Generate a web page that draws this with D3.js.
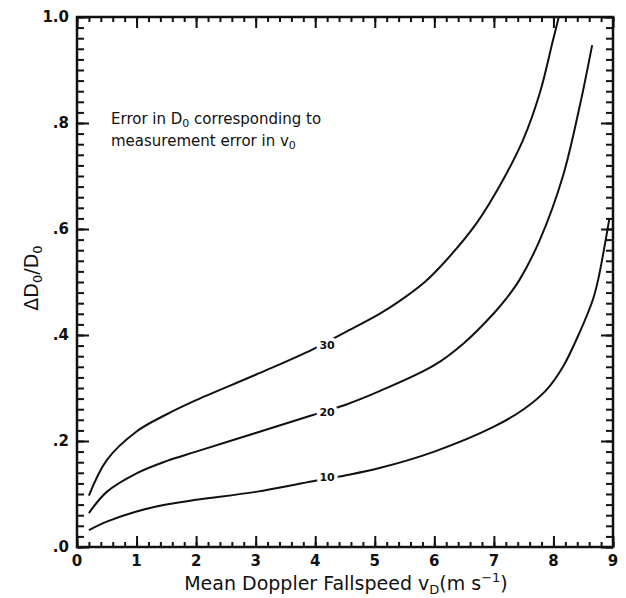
<!DOCTYPE html>
<html>
<head>
<meta charset="utf-8">
<script src="https://cdn.jsdelivr.net/npm/d3@7"></script>
<style>
  body { margin: 0; background: #fff; }
  text { font-family: "DejaVu Sans", sans-serif; fill: #111; }
</style>
</head>
<body>
<svg id="chart" width="626" height="598"></svg>
<script>
// values
let xTickValues = [0, 1, 2, 3, 4, 5, 6, 7, 8, 9];
let yTickValues = [0, 0.2, 0.4, 0.6, 0.8, 1.0];
let yTickLabels = ['.0', '.2', '.4', '.6', '.8', '1.0'];

let curveNames = ['30', '20', '10'];
let vd30 = [0.2, 0.5, 1.0, 1.5, 2.0, 3.0, 3.96, 4.5, 5.08, 5.39, 5.84, 6.2, 6.71, 7.15, 7.49, 7.77, 7.99, 8.09];
let err30 = [0.097, 0.164, 0.218, 0.25, 0.277, 0.325, 0.373, 0.405, 0.44, 0.462, 0.5, 0.541, 0.611, 0.692, 0.768, 0.856, 0.955, 1.0];
let vd20 = [0.2, 0.5, 1.0, 1.5, 2.0, 3.0, 3.96, 4.5, 5.08, 6.0, 6.5, 7.0, 7.21, 7.43, 7.77, 8.16, 8.44, 8.65];
let err20 = [0.064, 0.104, 0.139, 0.162, 0.18, 0.215, 0.249, 0.268, 0.294, 0.343, 0.385, 0.441, 0.469, 0.504, 0.579, 0.70, 0.831, 0.947];
let vd10 = [0.2, 0.5, 1.0, 1.5, 2.0, 3.0, 3.96, 4.5, 5.08, 6.0, 7.0, 7.5, 7.88, 8.16, 8.44, 8.66, 8.75, 8.94];
let err10 = [0.032, 0.048, 0.067, 0.08, 0.089, 0.104, 0.124, 0.135, 0.149, 0.18, 0.227, 0.26, 0.296, 0.34, 0.405, 0.466, 0.504, 0.62];
// where the contour labels sit
let labelX = [4.2, 4.2, 4.2];
let labelY = [0.38, 0.255, 0.132];

let margin = { top: 17, right: 13, bottom: 51, left: 77 };
let width = 626, height = 598;

let svg = d3.select('#chart');

let x = d3.scaleLinear().domain([0, 9]).range([margin.left, width - margin.right]);
let y = d3.scaleLinear().domain([0, 1]).range([height - margin.bottom, margin.top]);

let series = [
  vd30.map((v, i) => ({ x: v, y: err30[i] })),
  vd20.map((v, i) => ({ x: v, y: err20[i] })),
  vd10.map((v, i) => ({ x: v, y: err10[i] }))
];

let line = d3.line()
  .x(d => x(d.x))
  .y(d => y(d.y))
  .curve(d3.curveCatmullRom.alpha(0.5));

svg.append('g')
  .selectAll('path')
  .data(series)
  .enter()
  .append('path')
  .attr('d', line)
  .attr('fill', 'none')
  .attr('stroke', '#111')
  .attr('stroke-width', 2);

// labels on curves, white halo makes the gap in the line
svg.append('g')
  .selectAll('text')
  .data(curveNames)
  .enter()
  .append('text')
  .attr('x', (d, i) => x(labelX[i]))
  .attr('y', (d, i) => y(labelY[i]))
  .attr('dy', '0.35em')
  .attr('text-anchor', 'middle')
  .attr('font-size', 11)
  .attr('font-weight', 'bold')
  .attr('stroke', '#fff')
  .attr('stroke-width', 7)
  .attr('paint-order', 'stroke')
  .text(d => d);

// axes: ticks inward on all four sides
let minorX = d3.range(0, 9.001, 0.2);
let minorY = d3.range(0, 1.001, 0.02);

function tickAxis(axis, pos) {
  svg.append('g').attr('transform', pos).call(axis);
}
tickAxis(d3.axisTop(x).tickValues(minorX).tickSize(5).tickFormat(''), `translate(0,${y(0)})`);
tickAxis(d3.axisTop(x).tickValues(xTickValues).tickSize(11).tickFormat(''), `translate(0,${y(0)})`);
tickAxis(d3.axisBottom(x).tickValues(minorX).tickSize(5).tickFormat(''), `translate(0,${y(1)})`);
tickAxis(d3.axisBottom(x).tickValues(xTickValues).tickSize(11).tickFormat(''), `translate(0,${y(1)})`);
tickAxis(d3.axisRight(y).tickValues(minorY).tickSize(7).tickFormat(''), `translate(${x(0)},0)`);
tickAxis(d3.axisRight(y).tickValues(yTickValues).tickSize(12).tickFormat(''), `translate(${x(0)},0)`);
tickAxis(d3.axisLeft(y).tickValues(minorY).tickSize(7).tickFormat(''), `translate(${x(9)},0)`);
tickAxis(d3.axisLeft(y).tickValues(yTickValues).tickSize(12).tickFormat(''), `translate(${x(9)},0)`);

svg.selectAll('.domain').remove();
svg.selectAll('.tick line').attr('stroke', '#111').attr('stroke-width', 2);

// frame
svg.append('rect')
  .attr('x', x(0)).attr('y', y(1))
  .attr('width', x(9) - x(0)).attr('height', y(0) - y(1))
  .attr('fill', 'none').attr('stroke', '#111').attr('stroke-width', 2.5);

// tick labels
svg.append('g')
  .selectAll('text')
  .data(xTickValues)
  .enter()
  .append('text')
  .attr('x', d => x(d))
  .attr('y', y(0) + 19)
  .attr('text-anchor', 'middle')
  .attr('font-size', 15)
  .attr('font-weight', 'bold')
  .text(d => d);

svg.append('g')
  .selectAll('text')
  .data(yTickValues)
  .enter()
  .append('text')
  .attr('x', x(0) - 8)
  .attr('y', d => y(d))
  .attr('dy', '0.35em')
  .attr('text-anchor', 'end')
  .attr('font-size', 15)
  .attr('font-weight', 'bold')
  .text((d, i) => yTickLabels[i]);

// axis titles
let xt = svg.append('text')
  .attr('x', 346).attr('y', 590)
  .attr('text-anchor', 'middle')
  .attr('font-size', 19);
xt.append('tspan').text('Mean Doppler Fallspeed v');
xt.append('tspan').attr('font-size', 13).attr('dy', 4).text('D');
xt.append('tspan').attr('dy', -4).text('(m s');
xt.append('tspan').attr('font-size', 13).attr('dy', -8).text('−1');
xt.append('tspan').attr('dy', 8).text(')');

let yt = svg.append('text')
  .attr('transform', 'translate(38,278) rotate(-90)')
  .attr('text-anchor', 'middle')
  .attr('font-size', 19);
yt.append('tspan').text('ΔD');
yt.append('tspan').attr('font-size', 13).attr('dy', 4).text('0');
yt.append('tspan').attr('dy', -4).text('/D');
yt.append('tspan').attr('font-size', 13).attr('dy', 4).text('0');

// annotation
let note1 = svg.append('text').attr('x', 111).attr('y', 124).attr('font-size', 15);
note1.append('tspan').text('Error in D');
note1.append('tspan').attr('font-size', 11).attr('dy', 3).text('0');
note1.append('tspan').attr('dy', -3).text(' corresponding to');
let note2 = svg.append('text').attr('x', 111).attr('y', 146).attr('font-size', 15);
note2.append('tspan').text('measurement error in v');
note2.append('tspan').attr('font-size', 11).attr('dy', 3).text('0');
</script>
</body>
</html>
